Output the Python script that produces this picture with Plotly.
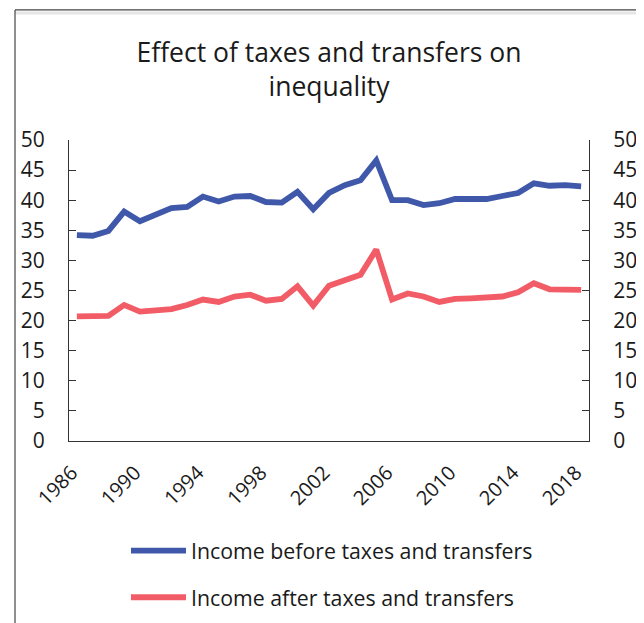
import plotly.graph_objects as go

years = list(range(1986, 2019))
before = [34.2, 34.1, 34.9, 38.1, 36.5, 37.7, 38.7, 38.9, 40.6, 39.8, 40.6,
          40.7, 39.7, 39.6, 41.4, 38.5, 41.2, 42.5, 43.3, 46.6, 40.0, 40.0,
          39.2, 39.5, 40.2, 40.2, 40.2, 40.7, 41.2, 42.8, 42.4, 42.5, 42.3]
after = [20.7, 20.8, 20.8, 22.6, 21.5, 21.7, 21.9, 22.6, 23.5, 23.1, 24.0,
         24.3, 23.3, 23.6, 25.7, 22.5, 25.8, 26.7, 27.6, 31.8, 23.5, 24.5,
         24.0, 23.1, 23.6, 23.7, 23.9, 24.0, 24.7, 26.2, 25.2, 25.2, 25.1]
tick_years = list(range(1986, 2019, 4))
y_ticks = list(range(0, 51, 5))

title_text = "Effect of taxes and transfers on<br>inequality"
name_before = "Income before taxes and transfers"
name_after = "Income after taxes and transfers"

BLUE = "#3F58A9"
RED = "#F25C66"
AXIS = "#333333"
TXT = "#1a1a1a"
FONT = "Open Sans"

fig = go.Figure()
fig.add_trace(go.Scatter(x=years, y=before, mode="lines", name=name_before,
                         line=dict(color=BLUE, width=5.8), legendgroup="a",
                         yaxis="y"))
fig.add_trace(go.Scatter(x=years, y=after, mode="lines", name=name_after,
                         line=dict(color=RED, width=5.8), legendgroup="b",
                         yaxis="y2"))

# page has an 8px body margin, so figure coords = page coords - 8
OFF = 8
W, H = 644 - OFF, 623 - OFF
L, R, T, B = 69 - OFF, 644 - 589, 139.5 - OFF, 623 - 441.5
pw = W - L - R
ph = H - T - B

def px(x):
    return (x - L) / pw

def py(y):
    return (H - B - y) / ph

yax = dict(range=[0, 50], tickmode="array", tickvals=y_ticks,
           showline=True, linecolor=AXIS, linewidth=1.3,
           ticks="inside", ticklen=7, tickcolor=AXIS, tickwidth=1.3,
           showgrid=False, zeroline=False, ticklabelstandoff=19,
           automargin=False,
           tickfont=dict(size=21, family=FONT, color=TXT))

fig.update_layout(
    template="none",
    width=W, height=H,
    margin=dict(l=L, r=R, t=T, b=B, pad=0, autoexpand=False),
    paper_bgcolor="white", plot_bgcolor="white",
    font=dict(family=FONT, color=TXT, size=21),
    title=dict(text=title_text, x=0.5, xref="paper", xanchor="center",
               y=1 - 54 / H, yref="container", yanchor="middle",
               font=dict(size=26.5, family=FONT, color=TXT),
               automargin=False),
    showlegend=True,
    legend=dict(orientation="v", x=px(118), xanchor="left",
                y=py(523), yanchor="top",
                font=dict(size=21.3, family=FONT, color=TXT),
                itemwidth=55, tracegroupgap=16, traceorder="grouped",
                bgcolor="rgba(0,0,0,0)", borderwidth=0),
    xaxis=dict(range=[1985.5, 2018.5], tickmode="array", tickvals=tick_years,
               ticktext=[str(v) for v in tick_years], tickangle=-45,
               showline=True, linecolor=AXIS, linewidth=1.3, ticks="",
               showgrid=False, zeroline=False, automargin=False,
               ticklabelstandoff=11, ticklabelshift=-5,
               tickfont=dict(size=20, family=FONT, color=TXT)),
    yaxis=yax,
    yaxis2=dict(yax, overlaying="y", side="right", anchor="x"),
)

# page frame lines seen around the chart
FX, FY = 15, 9
fig.add_shape(type="line", xref="paper", yref="paper",
              x0=px(FX - OFF), x1=px(W + 5), y0=py(FY - OFF), y1=py(FY - OFF),
              line=dict(color="#444444", width=1.2))
fig.add_shape(type="line", xref="paper", yref="paper",
              x0=px(FX - OFF), x1=px(W + 5), y0=py(FY + 3 - OFF),
              y1=py(FY + 3 - OFF),
              line=dict(color="#e6e6e6", width=3))
fig.add_shape(type="line", xref="paper", yref="paper",
              x0=px(FX - OFF), x1=px(FX - OFF), y0=py(FY - OFF), y1=py(H + 5),
              line=dict(color="#444444", width=1.2))

fig.write_html("out.html")
